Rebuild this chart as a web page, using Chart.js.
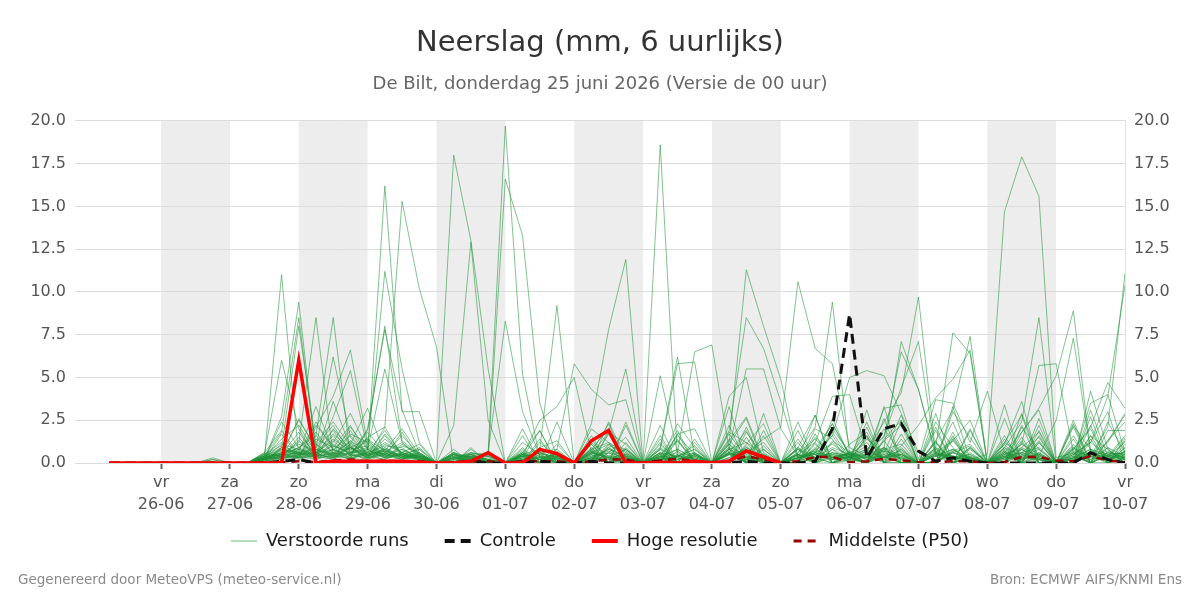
<!DOCTYPE html>
<html><head><meta charset="utf-8">
<script src="https://cdn.jsdelivr.net/npm/chart.js@4/dist/chart.umd.min.js"></script>
<style>
html,body{margin:0;padding:0;background:#fff;}
#wrap{position:relative;width:1200px;height:600px;}
canvas{display:block}
.foot{position:absolute;top:571px;font:13.5px "DejaVu Sans",sans-serif;color:#8a8a8a;white-space:nowrap}
#dbg{position:absolute;left:0;top:0;color:red;font:12px sans-serif}
</style></head>
<body><div id="wrap"><canvas id="c" width="1200" height="600"></canvas>
<div class="foot" style="left:18px">Gegenereerd door MeteoVPS (meteo-service.nl)</div>
<div class="foot" style="right:18px">Bron: ECMWF AIFS/KNMI Ens</div>
<div id="dbg"></div></div>
<script>
// ---- time axis: 6-hourly steps, hours relative to 26-06 00:00 ----
const firstHour = -18;   // 25-06 06:00
const stepHours = 6;
const nSteps = 60;
const dayNames = ['vr','za','zo','ma','di','wo','do','vr','za','zo','ma','di','wo','do','vr'];
const dayDates = ['26-06','27-06','28-06','29-06','30-06','01-07','02-07','03-07','04-07','05-07','06-07','07-07','08-07','09-07','10-07'];
const shadedDays = ['26-06','28-06','30-06','02-07','04-07','06-07','08-07'];
const yTicks = [0,2.5,5,7.5,10,12.5,15,17.5,20];

// ---- series (mm per 6 h) ----
const hogeResolutie = [0,0,0, 0,0,0,0, 0,0,0,0, 6.0,0,0.1,0.1, 0.1,0.1,0.1,0.05, 0,0,0.1,0.6, 0,0,0.8,0.55, 0,1.3,1.9,0, 0,0.05,0,0.1, 0,0.1,0.7,0.35, 0,
 null,null,null, null,null,null,null, null,null,null,null, null,null,null,null, null,null,null,null, null];
const controle = [0,0,0, 0,0,0,0, 0,0,0,0.1, 0.2,0,0.1,0.1, 0,0.1,0,0, 0,0,0.1,0, 0,0,0.1,0, 0,0.1,0,0, 0,0.1,0,0, 0,0,0.1,0, 0,0,0.1,2.0, 8.7,0.3,2.0,2.3, 0.7,0.1,0.3,0.1, 0,0,0,0, 0,0,0.6,0.2, 0];
const middelste = [0,0,0, 0,0,0,0, 0,0,0,0.05, 0.1,0.05,0.15,0.2, 0.1,0.15,0.1,0.1, 0,0.05,0.1,0.1, 0,0.1,0.1,0.1, 0,0.1,0.2,0.2, 0,0.15,0.25,0.1, 0.05,0.1,0.4,0.2, 0,0.1,0.35,0.35, 0.05,0.1,0.25,0.15, 0.05,0.05,0.1,0.1, 0,0.05,0.35,0.35, 0.15,0.1,0.4,0.15, 0.05];

const run01 = [0,0,0, 0,0,0,0, 0,0,0.3,11.0, 0.4,0.2,0.8,0.3, 0.1,0.6,0.2,0, 0,0.3,0.5,0.2, 0,0.4,0.1,0, 0,0.8,1.2,0.6, 0,18.6,0.4,0.2, 0,1.1,0.3,0, 0,0.6,1.4,0.3, 0.1,0.4,0.9,0.2, 0,0.6,1.3,0.1, 0,1.2,0.5,0.3, 0,0.8,0.4,2.1, 11.1];
const run02 = [0,0,0, 0,0,0,0, 0,0,0.5,6.0, 2.0,0.3,0.6,1.2, 0.4,2.1,15.3,10.2, 6.8,0,0.2,0, 0,0.5,0.2,0.1, 0,0.6,1.1,0.4, 0,0.3,0.8,0.2, 0,0.9,0.5,0.1, 0,0.3,0.7,1.6, 5.0,5.4,5.1,2.9, 0.6,0.2,0.4,0, 0,0.9,0.4,0.2, 0,0.5,1.2,0.4, 0.6];
const run03 = [0,0,0, 0,0,0,0, 0,0,0.2,2.7, 9.4,0.5,0.3,1.0, 0.2,0.8,0.3,0, 0.1,18.0,13.0,5.5, 0,0.6,0,0.3, 0,1.2,0.4,0.2, 0,0.8,0.3,0.1, 0,0.6,0.2,0.4, 0,0.9,0.3,0, 0.7,0.2,0.5,0.3, 0,0.4,0.8,0.2, 0.5,14.7,17.9,15.6, 0.3,0.6,0.2,0.9, 0.4];
const run04 = [0,0,0, 0,0,0,0, 0,0,0.4,1.8, 8.5,0.6,0.2,0.9, 1.4,0.3,0.5,0.2, 0,0.4,0.5,0.6, 19.7,5.2,0.3,0, 0,0.2,0.9,0.3, 0,0.5,1.3,0.2, 0,0.3,0.8,0.1, 0,0.4,0.6,1.1, 0.3,0.7,2.4,4.1, 9.7,0.6,0.3,0.2, 0,0.4,0.2,1.3, 0,0.2,0.5,1.2, 2.9];
const run05 = [0,0,0, 0,0,0,0, 0,0,0.1,0.9, 8.0,1.1,0.4,0.3, 0.6,16.2,3.0,3.0, 0,0.2,0.1,0, 0,0.5,0.8,9.2, 0,0.7,0.3,0, 0,0.2,0.4,1.0, 0,0.6,0.1,0.2, 0,0.8,0.3,0.5, 0.2,1.4,0.6,0.3, 0,0.5,0.2,0.9, 0,0.3,1.1,0.5, 0,0.7,0.4,0.3, 1.5];
const run06 = [0,0,0, 0,0,0,0, 0,0,0.3,0.5, 1.2,8.5,0.4,0.6, 0.8,11.2,5.5,1.2, 0,0,0.2,0.4, 0,0.3,0.6,0.2, 0,2.3,7.8,11.9, 0,0.4,0.1,0.6, 0,0.2,0.9,0.4, 0,0.3,0.5,0.2, 0.6,0.2,0.3,0.8, 0,0.1,0.6,0.3, 0,0.5,0.9,0.4, 0,1.1,0.2,0.6, 0.3];
const run07 = [0,0,0, 0,0,0,0, 0,0,0.2,0.3, 0.5,1.6,8.5,0.4, 1.9,8.0,1.3,0.5, 0,0.3,0.6,0.4, 16.6,13.3,3.5,0.3, 0,0.6,0.4,0.1, 0,0.9,0.2,0.4, 0,0.5,0.8,0.3, 0,0.4,0.7,0.3, 0.5,0.2,0.9,0.4, 0,1.3,3.1,7.4, 0,0.3,0.2,0.5, 0,0.9,0.3,0.2, 0.7];
const run08 = [0,0,0, 0,0,0,0, 0,0,0.4,0.8, 0.6,0.9,6.2,1.5, 0.4,0.7,0.3,0.2, 0,0.5,0.3,0.6, 8.3,3.0,0.4,0.2, 0,0.3,0.8,0.4, 0,0.6,0.3,0.1, 0,0.8,1.2,0.5, 0,0.6,2.1,9.4, 0.5,0.3,0.7,0.4, 0,0.8,0.3,0.5, 0,0.4,0.6,0.3, 0,0.2,0.5,0.4, 0.2];
const run09 = [0,0,0, 0,0,0,0.3, 0,0,0.5,1.2, 0.3,2.1,3.9,6.6, 1.1,0.4,0.8,0.3, 0,0.4,0.1,0.6, 0,0.2,0.5,0.4, 0,0.8,0.3,0.5, 0,5.1,0.6,0.2, 0,0.3,0.9,0.2, 0,0.3,0.6,0.4, 0.2,0.7,0.3,1.0, 2.2,3.8,4.9,6.6, 0,0.6,0.3,0.2, 0,0.3,0.8,0.4, 0.6];
const run10 = [0,0,0, 0,0,0,0, 0,0,0.2,0.6, 0.8,0.4,2.7,5.4, 0.8,0.3,0.5,0.2, 0,2.2,12.9,2.5, 0,0.6,0.2,0.4, 0,0.3,0.7,0.2, 0,0.2,0.4,0.8, 0,0.6,0.2,0.1, 0,0.2,0.8,0.3, 0.6,0.4,0.2,0.5, 0,0.9,0.4,0.2, 0,0.6,1.8,3.2, 5.1,8.9,0.7,0.4, 0.3];
const run11 = [0,0,0, 0,0,0,0, 0,0,0.1,0.4, 0.3,0.6,0.2,1.1, 3.2,0.5,0.2,0.6, 0,0.1,0.4,0.2, 0,0.4,2.5,3.3, 5.0,0.6,0.3,0.2, 0,0.3,0.6,6.5, 6.9,0.8,0.4,0.2, 0,0.5,0.2,0.6, 0.4,0.3,0.8,0.2, 0,0.4,0.2,0.3, 0,0.2,0.6,0.9, 0,0.3,0.6,0.2, 0.5];
const run12 = [0,0,0, 0,0,0,0, 0,0,0.3,0.2, 0.5,0.8,0.3,0.6, 0.2,0.9,0.4,0.3, 0,0.5,0.3,0.2, 0,0.2,0.6,0.8, 5.8,4.3,3.4,3.7, 0,0.6,0.4,0.3, 0,1.2,11.3,8.0, 4.9,0.3,0.6,0.2, 0.4,0.8,0.3,0.5, 0,0.6,0.4,0.1, 0,0.5,0.8,0.2, 0,0.3,0.4,0.7, 0.3];
const run13 = [0,0,0, 0,0,0,0, 0,0,0.2,0.4, 0.6,0.3,1.1,0.5, 0.3,0.6,0.2,0.8, 0,0.2,0.5,0.1, 0,0.4,0.2,0.6, 0,0.5,1.8,5.5, 0,0.9,6.2,0.4, 0,0.5,0.3,0.8, 0,0.2,0.6,0.3, 0.5,0.4,1.6,4.4, 7.1,0.5,0.3,0.2, 0,0.3,0.4,0.8, 0,0.5,1.2,3.9, 10.4];
const run14 = [0,0,0, 0,0,0,0, 0,0,0.4,0.6, 0.2,0.5,0.3,0.9, 0.4,0.2,0.6,0.3, 0,0.3,0.4,0.2, 0,0.2,0.3,0.5, 0,0.7,0.2,0.3, 0,0.8,5.8,5.9, 0,1.9,8.5,6.7, 3.6,0.3,0.5,0.2, 0.6,0.3,0.4,0.7, 0,0.9,7.6,6.4, 0,0.5,0.2,0.6, 0,0.3,0.8,0.5, 0.2];
const run15 = [0,0,0, 0,0,0,0, 0,0,0.3,0.5, 0.9,0.4,0.2,0.6, 1.3,0.5,0.3,0.4, 0,0.6,0.3,0.1, 0,0.5,0.2,0.3, 0,0.2,0.4,0.8, 0,0.5,0.2,0.6, 0,0.8,5.5,5.5, 2.0,0.4,0.3,0.6, 0.2,0.5,0.9,7.1, 4.3,0.4,0.6,0.2, 0,0.3,1.1,5.7, 5.8,0.6,0.4,0.2, 0.3];
const run16 = [0,0,0, 0,0,0,0, 0,0,0.2,0.3, 0.4,0.6,0.8,0.3, 0.5,0.2,0.7,0.4, 0,0.5,0.2,0.6, 0,0.4,0.6,0.3, 0,0.2,0.8,0.4, 0,0.3,0.2,0.5, 0,3.9,5.0,0.6, 0,0.5,1.2,3.9, 4.0,0.6,0.3,0.5, 0,0.4,0.8,0.3, 0,0.9,2.4,8.5, 0,0.2,0.6,0.3, 0.5];
const run17 = [0,0,0, 0,0,0,0, 0,0,0.1,0.2, 0.3,0.8,0.5,0.2, 0.6,0.4,0.2,0.5, 0,0.2,0.6,0.4, 0,0.5,0.3,0.2, 0,0.6,0.3,0.5, 0,0.4,0.8,0.3, 0,0.2,0.6,1.4, 2.1,10.6,6.7,5.8, 0.9,0.4,0.3,0.6, 0,0.5,0.4,0.3, 0,0.2,0.8,0.4, 2.5,7.3,0.6,0.3, 0.4];
const run18 = [0,0,0, 0,0,0,0.2, 0,0,0.3,0.4, 0.6,0.2,0.5,0.9, 0.3,0.7,0.4,0.2, 0,0.3,0.2,0.4, 0,0.2,0.3,0.5, 0,0.4,0.6,0.3, 0,0.2,0.4,0.6, 0,0.5,0.2,0.4, 0,0.3,0.5,0.2, 0.4,0.5,3.2,3.4, 0.2,3.7,3.5,1.2, 4.2,0.6,0.3,0.5, 0,0.8,2.1,4.7, 3.2];
const run19 = [0,0,0, 0,0,0,0, 0,0,0.2,0.5, 0.3,0.4,0.6,0.2, 0.8,0.3,0.5,0.4, 0,0.6,0.3,0.5, 0,0.2,0.6,0.3, 0,0.3,0.2,0.4, 0,0.4,0.3,0.2, 0,0.6,0.3,0.4, 0,0.5,0.3,0.6, 0.4,0.8,1.5,6.5, 4.3,0.6,0.2,0.5, 0,0.4,0.6,0.2, 0,0.3,3.5,4.0, 0.6];
const run20 = [0,0,0, 0,0,0,0, 0,0,0.3,1.4, 2.2,0.6,1.3,0.4, 2.0,7.8,3.1,0.6, 0,0,0.9,0, 0,0,1.2,0.4, 0,0,1.8,1.1, 0,0.5,0,0, 0,1.3,2.7,0.2, 0,0,1.5,0.4, 0.2,2.1,0,0.3, 0,0,1.3,2.5, 0,0.8,0,1.6, 0,0,3.1,0.4, 0];
const run21 = [0,0,0, 0,0,0,0, 0,0,0.2,2.4, 0.9,1.8,0.5,2.1, 0.8,5.5,1.2,0.3, 0,0,0.6,0, 0,0.3,1.9,0, 0,1.4,0,0.2, 0,0,1.6,0.5, 0,0,1.1,2.3, 0,0.9,0,1.8, 0.3,0,1.4,2.5, 0,1.2,0,0.3, 0,0,2.1,0.8, 0,2.5,0,1.3, 2.8];
const run22 = [0,0,0, 0,0,0,0, 0,0,0.4,0.3, 1.5,0.3,2.0,0.8, 0.3,1.6,0.4,0.9, 0,0,0.2,0.5, 0,0.2,0,0.8, 0,0.6,2.3,0, 0,0.3,0,1.2, 0,1.7,0.3,0, 0,0.2,2.8,0, 0.1,1.6,0,0.9, 0,0,3.3,0.2, 0,1.1,0,2.6, 0,0.8,2.0,0, 0.3];
const run23 = [0,0,0, 0,0,0,0, 0,0,0.1,0.8, 0.4,1.1,0.3,1.7, 1.2,0.4,1.8,0.3, 0,0.5,0,0, 0,0.8,0,0.2, 0,0,0.6,1.5, 0,1.1,0,0, 0,0,1.8,0.4, 0,0,0.6,2.3, 0.4,0,2.0,0.6, 0,0,0.7,1.1, 0,0,2.9,0.3, 0,1.6,0,1.3, 2.4];
const run24 = [0,0,0, 0,0,0,0, 0,0,0.6,0.4, 2.6,0.8,0.4,1.1, 0.5,1.2,0.6,0.2, 0,0,0.4,0, 0,0.4,0,0.6, 0,0.9,0,0.3, 0,0,2.3,0.9, 0,1.1,0,0.2, 0,0,1.2,0, 0.2,1.5,0,1.4, 0,2.9,0,0.6, 0,0,1.5,0, 0,2.2,0.8,0, 1.1];
const run25 = [0,0,0, 0,0,0,0.2, 0,0,0.2,0.9, 0.3,0.5,1.6,0.4, 0.6,0.3,1.1,0.5, 0,0.6,0,0, 0,0,0.7,0, 0,0,1.1,0.8, 0,0.4,1.9,0, 0,0.8,0,0.5, 0,0,0.3,0.9, 0.5,1.2,0,0, 0,2.4,0.9,0, 0,0.7,0,1.2, 0,0,1.6,0.8, 0];
const run26 = [0,0,0, 0,0,0,0, 0,0,0.3,0.5, 1.1,0.7,0.6,0.3, 1.5,2.1,0.4,0.6, 0,0,0.1,0, 0,0.5,0,0, 0,0.3,0,0.9, 0,0,1.4,0, 0,0.6,1.9,0, 0,1.2,0,0.3, 0.3,0,0.8,1.1, 0,0,1.6,0, 0,0.6,0,2.2, 0,1.0,0,0.6, 0.5];
const run27 = [0,0,0, 0,0,0,0, 0,0,0.1,0.3, 0.5,1.4,0.9,2.2, 0.4,0.8,0.3,0.4, 0,0,0.5,0, 0,0.6,0,0.5, 0,1.1,0,0, 0,0,0.4,0.8, 0,0,0.6,1.2, 0,0.5,0,2.0, 0.6,0,0.5,0, 0,1.3,0,0.3, 0,0,0.9,1.8, 0,0,2.7,0, 0.9];
const run28 = [0,0,0, 0,0,0,0, 0,0,0.5,1.0, 0.6,0.3,0.4,0.9, 0.3,1.4,0.6,1.1, 0,0,0.3,0, 0,0,1.4,0, 0,0.6,0,0.2, 0,0,0.5,0, 0,1.4,0,0.3, 0,0,0.4,1.6, 0.2,0,1.3,0, 0,0.6,0,0.8, 0,0,1.2,0, 0,0.5,0,1.9, 1.9];
const run29 = [0,0,0, 0,0,0,0, 0,0,0.2,1.7, 0.4,0.9,1.9,0.5, 0.2,0.6,0.3,0.2, 0,0.3,0,0, 0,0,0.4,0, 0,0.3,0,0.6, 0,0,0.7,0, 0,0.6,0,0.5, 0,0.8,0,0, 0.4,0,0.4,0, 0,0.4,0,0.9, 0,1.4,0,0, 0,0.6,0,0.5, 0.6];
const run30 = [0,0,0, 0,0,0,0, 0,0,0.4,0.2, 0.8,0.5,1.0,0.6, 0.9,0.4,0.5,0.3, 0,0,0,0.6, 0,0,0.5,0, 0,0,0.3,0, 0,0.3,0,0.5, 0,0,1.0,0, 0,0.5,0,1.2, 0.3,0,0.9,0, 0,0.8,0,0.4, 0,0,0.6,1.5, 0,0,0.4,0, 1.3];
const run31 = [0,0,0, 0,0,0,0, 0,0,0.3,0.6, 0.3,2.4,0.8,0.4, 0.6,1.0,0.9,0.2, 0,0,0.2,0, 0,0.4,0,0.4, 0,0,0.9,0, 0,0.6,0,0, 0,0.9,0,0.8, 0,0,1.1,0, 0.6,0,0.7,0, 0,0,0.8,0, 0,0.9,0,0, 0,0,1.4,0, 0.2];
const run32 = [0,0,0, 0,0,0,0, 0,0,0.2,0.4, 0.7,0.4,0.5,1.3, 0.3,0.5,0.8,0.4, 0,0,0,0.2, 0,0.7,0,0, 0,0.4,0,0.5, 0,0,0.4,0, 0,0.5,0,0.3, 0,0,0.3,0, 0.4,1.0,0,0, 0,0,0.6,1.0, 0,0,0.8,0, 0,0.4,0,0.9, 0];
const run33 = [0,0,0, 0,0,0,0, 0,0,0.3,0.7, 0.5,0.6,1.4,0.7, 0.4,0.9,0.3,0.5, 0,0,0.4,0, 0,0,0.4,0, 0,0.7,0,0, 0,0,0.5,0, 0,0,0.4,0, 0,0.5,0,0.8, 0,0.5,0,0, 0,0.7,0,0.3, 0,0,0.5,0, 0,0.4,0,0, 0.7];
const run34 = [0,0,0, 0,0,0,0, 0,0,0.4,0.5, 1.8,0.4,3.6,0.9, 0.5,0.8,0.4,0.3, 0,0.6,0,0.2, 0,1.6,0,2.4, 0,0.5,0,2.2, 0,0.6,0,0.5, 0,1.1,2.6,0, 0,0,0.8,2.3, 0.5,1.6,0,0.8, 0,2.1,0,0.4, 0,2.6,0,0.4, 0,2.3,0,0.4, 1.6];
const run35 = [0,0,0, 0,0,0,0, 0,0,0.2,0.8, 0.6,3.3,0.7,1.9, 0.4,1.1,0.6,0.4, 0,0,0.8,0, 0,0.4,0,0.6, 0,2.0,1.2,0, 0,2.2,0,0.3, 0,0.6,0,1.9, 0,0.9,2.8,0, 0.3,2.4,0,0.5, 0,0,1.8,0, 0,1.2,2.8,0, 0,0.9,0,2.4, 0.6];
const run36 = [0,0,0, 0,0,0,0, 0,0,0.3,0.6, 2.5,0.9,0.4,1.3, 0.6,1.9,0.5,0.8, 0,0,0.2,0, 0,0.6,1.9,0, 0,0,2.4,0.3, 0,0,1.7,0, 0,0.7,0,1.6, 0,1.9,0,0.4, 0.5,0,2.6,0, 0,0.9,0,1.9, 0,0,2.2,0, 0,1.4,0,0.6, 0.3];
const run37 = [0,0,0, 0,0,0,0, 0,0,0.5,0.4, 0.9,1.6,0.6,0.5, 1.8,0.6,1.2,0.4, 0,0,0.5,0, 0,2.0,0,0.4, 0,0.5,0,2.4, 0,1.4,0,0.5, 0,3.3,0,0.3, 0,0,1.7,0, 0.4,0,1.3,2.2, 0,0,1.4,0, 0,0.7,0,1.9, 0,0,2.2,0, 0.4];
const run38 = [0,0,0, 0,0,0,0, 0,0,0.1,0.3, 0.4,1.0,2.2,0.6, 0.7,0.5,1.6,0.5, 0,0.3,0,0, 0,0.9,0,0.3, 0,1.6,0,0.8, 0,0,1.3,0, 0,0.8,0,2.9, 0,2.4,0,0.5, 0.3,0,0.6,2.8, 0,0.5,2.4,0, 0,1.6,0,0.6, 0,0,1.6,0, 0.9];
const run39 = [0,0,0, 0,0,0,0, 0,0,0.4,0.9, 0.5,0.6,1.7,0.8, 1.0,0.4,0.6,0.3, 0,0.4,0,0, 0,0,0.8,0, 0,0,1.7,0, 0,0.4,0,1.4, 0,0,2.1,0, 0,0.8,0,1.3, 0.6,0,0.8,0, 0,1.2,0,0.9, 0,0,1.3,0, 0,0.6,0,0.4, 1.2];
const run40 = [0,0,0, 0,0,0,0, 0,0,0.2,0.5, 0.6,0.4,0.8,1.6, 0.5,0.7,0.4,0.3, 0,0,0.3,0, 0,0.3,0,0.7, 0,0,0.6,0, 0,0.8,0,0, 0,0,0.6,0, 0,0.3,0,0.8, 0.3,0,0.4,0, 0,0,0.7,0, 0,0.4,0,0.3, 0,0,0.7,0, 0.3];
const run41 = [0,0,0, 0,0,0,0, 0,0,0.3,1.1, 0.8,2.2,1.0,0.6, 1.4,0.7,2.0,0.5, 0,0,0.3,0, 0,0.5,0,1.1, 0,0.8,2.0,0, 0,1.2,0,0.4, 0,2.2,0,1.0, 0,0,2.0,1.4, 0,3.1,0,1.7, 0,0,3.0,1.5, 0,0,1.8,3.1, 0,2.1,0,0, 1.4];
const run42 = [0,0,0, 0,0,0,0, 0,0,0.6,1.9, 0.5,1.2,2.4,1.0, 0.3,1.7,0.5,0.4, 0,0.5,0,0, 0,0,0.9,1.3, 0,1.1,0,1.2, 0,0,1.7,2.0, 0,0,1.5,0, 0,1.4,0,2.6, 0.4,0,3.3,0, 0,1.9,0,2.0, 0,3.4,0,1.2, 0,0,4.2,0.8, 0];
const run43 = [0,0,0, 0,0,0,0, 0,0,0.2,0.4, 1.3,0.4,1.2,2.9, 0.8,0.3,1.0,0.6, 0,0.8,0,0.3, 0,1.2,0.5,0, 0,0,1.0,0.7, 0,1.6,0,0, 0,1.8,1.2,0, 0,0,0.9,0, 1.1,1.8,0,2.5, 0,0,1.5,0, 0,1.1,3.6,0, 0,0,1.2,3.0, 0];

const verstoordeRuns = [run01,run02,run03,run04,run05,run06,run07,run08,run09,run10,
  run11,run12,run13,run14,run15,run16,run17,run18,run19,run20,
  run21,run22,run23,run24,run25,run26,run27,run28,run29,run30,
  run31,run32,run33,run34,run35,run36,run37,run38,run39,run40,
  run41,run42,run43];

// ---- build ----
const hours = [];
for (let i = 0; i < nSteps; i++) hours.push(firstHour + stepHours * i);
const bad = [];
verstoordeRuns.forEach((r, k) => { if (r.length !== nSteps) bad.push('run' + (k + 1) + ':' + r.length); });
[['hres', hogeResolutie], ['ctrl', controle], ['p50', middelste]].forEach(([n, a]) => { if (a.length !== nSteps) bad.push(n + ':' + a.length); });
if (bad.length) document.getElementById('dbg').textContent = bad.join(' ');

const pts = arr => arr.map((v, i) => ({x: hours[i], y: v}));
Chart.defaults.font.family = "'DejaVu Sans', sans-serif";

const datasets = [];
verstoordeRuns.forEach((r, k) => datasets.push({
  label: 'Verstoorde runs', data: pts(r), borderColor: 'rgba(30,145,55,0.55)', borderWidth: 1,
  pointRadius: 0, order: 10, inLegend: k === 0, rank: 0, legendWidth: 1.2
}));
datasets.push({label: 'Controle', data: pts(controle), borderColor: '#111', borderWidth: 3, borderDash: [10, 6],
  pointRadius: 0, order: 2, inLegend: true, rank: 1, legendWidth: 4});
datasets.push({label: 'Hoge resolutie', data: pts(hogeResolutie), borderColor: '#ff0000', borderWidth: 3.5,
  pointRadius: 0, order: 1, inLegend: true, rank: 2, legendWidth: 4});
datasets.push({label: 'Middelste (P50)', data: pts(middelste), borderColor: '#990000', borderWidth: 2.5, borderDash: [8, 6],
  pointRadius: 0, order: 3, inLegend: true, rank: 3, legendWidth: 3});

const shadePlugin = {
  id: 'shade',
  beforeDraw(chart) {
    const {ctx, chartArea: a, scales: {x}} = chart;
    ctx.save();
    ctx.fillStyle = '#ededed';
    shadedDays.forEach(d => {
      const h = dayDates.indexOf(d) * 24;
      const x0 = x.getPixelForValue(h), x1 = x.getPixelForValue(h + 24);
      ctx.fillRect(x0, a.top, x1 - x0, a.bottom - a.top);
    });
    ctx.restore();
  }
};
// let the two-line date labels draw below the (short) axis box
const labelRoom = {
  id: 'labelRoom',
  afterLayout(chart) { const x = chart.scales.x; x.bottom = x.top + 60; }
};

const yCommon = {
  min: 0, max: 20,
  afterBuildTicks: s => { s.ticks = yTicks.map(v => ({value: v})); },
  ticks: {color: '#555', font: {size: 16}, padding: 9, callback: v => Number(v).toFixed(1)},
};

new Chart(document.getElementById('c'), {
  type: 'line',
  data: {datasets},
  plugins: [shadePlugin, labelRoom],
  options: {
    responsive: false, animation: false,
    layout: {padding: {left: 0, right: 0, top: 0, bottom: 40}},
    elements: {line: {tension: 0}},
    plugins: {
      title: {display: true, text: 'Neerslag (mm, 6 uurlijks)', color: '#333', font: {size: 29, weight: 'normal'}, padding: {top: 26, bottom: 13}},
      subtitle: {display: true, text: 'De Bilt, donderdag 25 juni 2026 (Versie de 00 uur)', color: '#666', font: {size: 18}, padding: {top: 0, bottom: 25.5}},
      legend: {
        position: 'bottom',
        labels: {
          usePointStyle: true, pointStyle: 'line', pointStyleWidth: 26, boxHeight: 17,
          padding: 36, color: '#1a1a1a', font: {size: 18},
          generateLabels: chart => {
            const items = Chart.defaults.plugins.legend.labels.generateLabels(chart);
            items.forEach(it => {
              const ds = chart.data.datasets[it.datasetIndex];
              it.lineDash = ds.borderDash || [];
              it.strokeStyle = ds.borderColor;
              it.lineWidth = ds.legendWidth;
              it.pointStyle = 'line';
              it.lineCap = 'butt';
            });
            return items;
          },
          filter: (item, data) => data.datasets[item.datasetIndex].inLegend,
          sort: (a, b, data) => data.datasets[a.datasetIndex].rank - data.datasets[b.datasetIndex].rank
        }
      },
      tooltip: {enabled: false}
    },
    scales: {
      x: {
        type: 'linear', min: -30, max: 336,
        afterBuildTicks: s => { s.ticks = dayDates.map((d, k) => ({value: k * 24})); },
        afterFit: s => { s.height = 33; },
        grid: {drawOnChartArea: false, drawTicks: true, tickLength: 6, tickColor: '#666', tickWidth: 2},
        border: {display: false},
        ticks: {autoSkip: false, maxRotation: 0, color: '#555', font: {size: 16, lineHeight: 1.35}, padding: 3,
          callback: (v, i) => [dayNames[i], dayDates[i]]}
      },
      y: Object.assign({}, yCommon, {
        position: 'left',
        afterFit: s => { s.width = 75; },
        grid: {color: '#dcdcdc', drawTicks: false, lineWidth: 1},
        border: {display: false}
      }),
      y2: Object.assign({}, yCommon, {
        position: 'right',
        afterFit: s => { s.width = 75; },
        grid: {drawOnChartArea: false, drawTicks: false},
        border: {display: true, color: '#e0e0e0'}
      })
    }
  }
});
</script>
</body></html>
